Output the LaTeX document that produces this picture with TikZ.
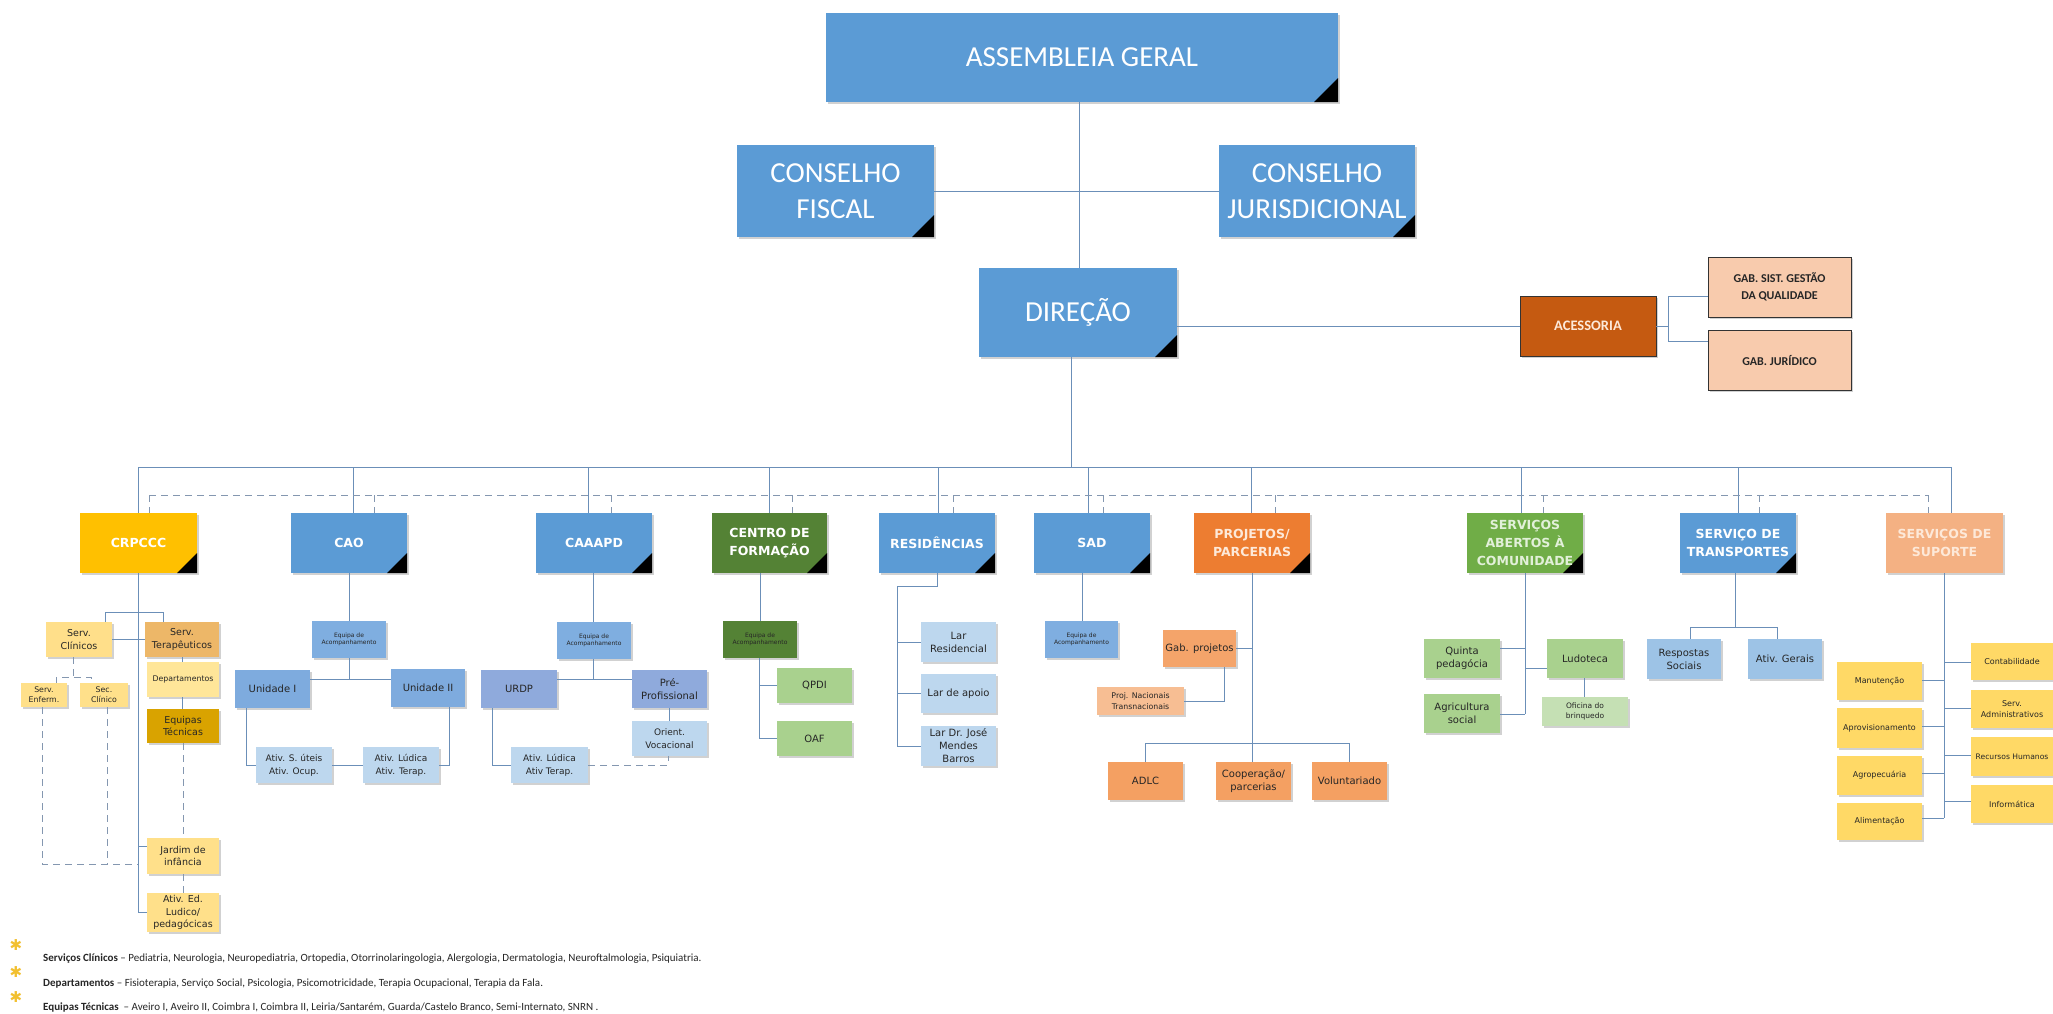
\documentclass[tikz,border=0pt]{standalone}
\usepackage{fontspec}
\newfontfamily\cb{Carlito}
\newfontfamily\dv{DejaVu Sans}
\usetikzlibrary{shadows}
\definecolor{mblue}{HTML}{5B9BD5}
\definecolor{crpc}{HTML}{FFC000}
\definecolor{sclc}{HTML}{FFDF8A}
\definecolor{stpc}{HTML}{EDB768}
\definecolor{depc}{HTML}{FFE699}
\definecolor{eqtc}{HTML}{D9A300}
\definecolor{jarc}{HTML}{FFE08A}
\definecolor{eqab}{HTML}{7FAEE0}
\definecolor{unic}{HTML}{7EABDE}
\definecolor{lbl}{HTML}{BDD7EE}
\definecolor{urdc}{HTML}{8FAADC}
\definecolor{cfg}{HTML}{548235}
\definecolor{qpc}{HTML}{A9D18E}
\definecolor{prjc}{HTML}{ED7D31}
\definecolor{gpc}{HTML}{F4A46A}
\definecolor{pnc}{HTML}{F7BE93}
\definecolor{adc}{HTML}{F4A062}
\definecolor{sacc}{HTML}{70AD47}
\definecolor{ofc}{HTML}{C5E0B4}
\definecolor{rsc}{HTML}{9DC3E6}
\definecolor{supc}{HTML}{F4B183}
\definecolor{yel}{HTML}{FFD966}
\definecolor{accc}{HTML}{C55A11}
\definecolor{gabc}{HTML}{F8CBAD}
\definecolor{lnc}{HTML}{6B8FB8}
\definecolor{dsc}{HTML}{8497B0}
\definecolor{crm}{HTML}{FDE9D9}
\definecolor{crg}{HTML}{E2F0D9}
\definecolor{txt}{HTML}{262626}
\definecolor{ast}{HTML}{F2C030}
\newcommand\BX[7]{%
  \pgfmathsetmacro\BXw{#4-#2}\pgfmathsetmacro\BXh{#5-#3}%
  \pgfmathsetmacro\BXx{(#2+#4)/2}\pgfmathsetmacro\BXy{(#3+#5)/2}%
  \node[#6, minimum width=\BXw pt, minimum height=\BXh pt] (#1) at (\BXx,\BXy) {#7};}
\tikzset{
  box/.style={rectangle, inner sep=1pt, align=center},
  shd/.style={drop shadow={opacity=0.18, shadow xshift=1.5pt, shadow yshift=-1.5pt, fill=black}},
  tri/.style={path picture={\fill[black] (path picture bounding box.south east) -- ++(-#1,0pt) -- ++(#1,#1) -- cycle;}},
  mainbox/.style={box, shd, fill=mblue, text=white, font=\cb\fontsize{29}{36}\selectfont, tri=22pt},
  topbox/.style={box, shd, text=white, font=\dv\bfseries\fontsize{12.5}{18}\selectfont},
  sm/.style={box, shd, text=txt, font=\dv\fontsize{10}{13}\selectfont},
  gab/.style={box, shd, draw=black!80, line width=0.8pt, fill=gabc, text=txt, font=\cb\bfseries\fontsize{12}{17}\selectfont},
  ln/.style={draw=lnc, line width=1pt},
  dsh/.style={draw=dsc, line width=1pt, dash pattern=on 7pt off 5pt},
  foot/.style={anchor=base west, inner sep=0pt, text=txt, font=\cb\fontsize{11}{13}\selectfont},
  astr/.style={inner sep=0pt, text=ast, font=\dv\fontsize{15}{15}\selectfont}
}
\begin{document}
\begin{tikzpicture}[x=1pt,y=-1pt]
\useasboundingbox (0,0) rectangle (2053,1013);
\fill[white] (0,0) rectangle (2053,1013);

% ---------- top level ----------
\BX{ag}{826}{13}{1338}{102}{mainbox, tri=24pt}{ASSEMBLEIA GERAL}
\BX{cf}{737}{145}{934}{237}{mainbox}{CONSELHO\\FISCAL}
\BX{cj}{1219}{145}{1415}{237}{mainbox}{CONSELHO\\JURISDICIONAL}
\BX{dir}{979}{268}{1177}{357}{mainbox}{DIREÇÃO}
\BX{acc}{1520}{296}{1656}{356}{gab, fill=accc, text=crm, font=\cb\bfseries\fontsize{14.5}{17}\selectfont}{ACESSORIA}
\BX{gq}{1708}{257}{1851}{317}{gab}{GAB. SIST. GESTÃO\\DA QUALIDADE}
\BX{gj}{1708}{330}{1851}{390}{gab}{GAB. JURÍDICO}

\draw[ln] (ag.south -| 1079,0) -- (dir.north -| 1079,0);
\draw[ln] (cf.east) -- (cj.west);
\draw[ln] (acc.west) -- (acc.west -| dir.east);
\draw[ln] (acc.east) -- (1668,326);
\draw[ln] (gq.west |- 0,296) -| (1668,341) -- (gj.west |- 0,341);

% ---------- departments ----------
\BX{crp}{80}{513}{197}{573}{topbox, fill=crpc, tri=20pt}{CRPCCC}
\BX{cao}{291}{513}{407}{573}{topbox, fill=mblue, tri=20pt}{CAO}
\BX{caa}{536}{513}{652}{573}{topbox, fill=mblue, tri=20pt}{CAAAPD}
\BX{cfo}{712}{513}{827}{573}{topbox, fill=cfg, tri=20pt}{CENTRO DE\\FORMAÇÃO}
\BX{res}{879}{513}{995}{573}{topbox, fill=mblue, tri=20pt}{RESIDÊNCIAS}
\BX{sad}{1034}{513}{1150}{573}{topbox, fill=mblue, tri=20pt}{SAD}
\BX{prj}{1194}{513}{1310}{573}{topbox, fill=prjc, text=crm, tri=20pt}{PROJETOS/\\PARCERIAS}
\BX{sac}{1467}{513}{1583}{573}{topbox, fill=sacc, text=crg, tri=20pt}{SERVIÇOS\\ABERTOS À\\COMUNIDADE}
\BX{trp}{1680}{513}{1796}{573}{topbox, fill=mblue, tri=20pt}{SERVIÇO DE\\TRANSPORTES}
\BX{sup}{1886}{513}{2003}{573}{topbox, fill=supc, text=crm}{SERVIÇOS DE\\SUPORTE}

\coordinate (busL) at (138,467);
\coordinate (busR) at (1951,467);
\draw[ln] (busL) -- (busR);
\draw[ln] (dir.south -| 1071,0) -- (1071,467);
\foreach \n/\x in {crp/138, cao/353, caa/588, cfo/769, res/938, sad/1088, prj/1251, sac/1521, trp/1738, sup/1951}
  \draw[ln] (\x,467) -- (\n.north -| \x,0);
\coordinate (dL) at (149,495);
\coordinate (dR) at (1928,495);
\draw[dsh] (dL) -- (dR);
\foreach \n/\x in {crp/149, cao/374, caa/611, cfo/792, res/953, sad/1103, prj/1275, sac/1543, trp/1759, sup/1928}
  \draw[dsh] (\x,495) -- (\n.north -| \x,0);

% ---------- CRPCCC ----------
\BX{scl}{46}{622}{112}{657}{sm, fill=sclc, font=\dv\fontsize{9.5}{12.5}\selectfont}{Serv.\\Clínicos}
\BX{stp}{145}{622}{219}{657}{sm, fill=stpc, font=\dv\fontsize{9.5}{12.5}\selectfont}{Serv.\\Terapêuticos}
\BX{dep}{147}{662}{219}{697}{sm, fill=depc, font=\dv\fontsize{7.8}{10}\selectfont}{Departamentos}
\BX{eqt}{147}{709}{219}{743}{sm, fill=eqtc, font=\dv\fontsize{9.5}{12.5}\selectfont}{Equipas\\Técnicas}
\BX{jar}{147}{838}{219}{874}{sm, fill=jarc, font=\dv\fontsize{9.5}{12.5}\selectfont}{Jardim de\\infância}
\BX{ate}{147}{893}{219}{932}{sm, fill=jarc, font=\dv\fontsize{9.5}{12.5}\selectfont}{Ativ. Ed.\\Ludico/\\pedagócicas}
\BX{sen}{21}{683}{67}{707}{sm, fill=jarc, font=\dv\fontsize{7.8}{10}\selectfont}{Serv.\\Enferm.}
\BX{sec}{80}{683}{128}{707}{sm, fill=jarc, font=\dv\fontsize{7.8}{10}\selectfont}{Sec.\\Clínico}

\draw[ln] (crp.south) -- (crp.south |- ate.west) -- (ate.west);
\draw[ln] (scl.north -| 105,0) -- (105,612) -- (163,612) -- (stp.north -| 163,0);
\draw[ln] (scl.east) -- (stp.west);
\draw[ln] (stp.south -| 182,0) -- (dep.north -| 182,0);
\draw[ln] (dep.south -| 182,0) -- (eqt.north -| 182,0);
\draw[dsh] (eqt.south -| 183,0) -- (jar.north -| 183,0);
\draw[dsh] (jar.south -| 183,0) -- (ate.north -| 183,0);
\draw[ln] (138,846) -- (jar.west |- 0,846);
\draw[dsh] (scl.south -| 73,0) -- (73,677);
\draw[dsh] (sen.north -| 56,0) -- (56,677) -- (91,677) -- (sec.north -| 91,0);
\draw[dsh] (sen.south -| 42,0) -- (42,864) -- (138,864);
\draw[dsh] (sec.south -| 107,0) -- (107,864);

% ---------- CAO ----------
\BX{eqa1}{312}{621}{386}{658}{sm, fill=eqab, font=\dv\fontsize{6}{7.5}\selectfont}{Equipa de\\Acompanhamento}
\BX{un1}{235}{670}{310}{708}{sm, fill=unic}{Unidade I}
\BX{un2}{391}{669}{465}{707}{sm, fill=unic}{Unidade II}
\BX{as1}{256}{747}{332}{783}{sm, fill=lbl, font=\dv\fontsize{9}{13}\selectfont}{Ativ. S. úteis\\Ativ. Ocup.}
\BX{al1}{363}{747}{439}{783}{sm, fill=lbl, font=\dv\fontsize{9}{13}\selectfont}{Ativ. Lúdica\\Ativ. Terap.}
\draw[ln] (cao.south) -- (eqa1.north);
\draw[ln] (eqa1.south) -- (eqa1.south |- 0,679);
\draw[ln] (un1.east |- 0,679) -- (un2.west |- 0,679);
\draw[ln] (un1.south -| 246,0) |- (as1.west);
\draw[ln] (as1.east) -- (al1.west);
\draw[ln] (un2.south -| 449,0) |- (al1.east);

% ---------- CAAAPD ----------
\BX{eqa2}{557}{622}{631}{659}{sm, fill=eqab, font=\dv\fontsize{6}{7.5}\selectfont}{Equipa de\\Acompanhamento}
\BX{urdp}{481}{670}{557}{708}{sm, fill=urdc}{URDP}
\BX{pre}{632}{670}{707}{708}{sm, fill=urdc}{Pré-\\Profissional}
\BX{ori}{632}{721}{707}{756}{sm, fill=lbl, font=\dv\fontsize{9}{12.5}\selectfont}{Orient.\\Vocacional}
\BX{al2}{511}{747}{588}{783}{sm, fill=lbl, font=\dv\fontsize{9}{13}\selectfont}{Ativ. Lúdica\\Ativ Terap.}
\draw[ln] (caa.south -| 593,0) -- (eqa2.north -| 593,0);
\draw[ln] (eqa2.south -| 593,0) -- (593,679);
\draw[ln] (urdp.east |- 0,679) -- (pre.west |- 0,679);
\draw[ln] (pre.south -| 669,0) -- (ori.north -| 669,0);
\draw[ln] (urdp.south -| 492,0) |- (al2.west);
\draw[dsh] (al2.east) -| (ori.south -| 668,0);

% ---------- Centro de Formacao ----------
\BX{eqa3}{723}{621}{797}{658}{sm, fill=cfg, font=\dv\fontsize{6}{7.5}\selectfont}{Equipa de\\Acompanhamento}
\BX{qpdi}{777}{668}{852}{703}{sm, fill=qpc}{QPDI}
\BX{oaf}{777}{721}{852}{756}{sm, fill=qpc}{OAF}
\draw[ln] (cfo.south -| 760,0) -- (eqa3.north -| 760,0);
\draw[ln] (eqa3.south -| 759,0) |- (oaf.west);
\draw[ln] (qpdi.west) -- (qpdi.west -| 759,0);

% ---------- Residencias ----------
\BX{lr}{921}{622}{996}{662}{sm, fill=lbl}{Lar\\Residencial}
\BX{la}{921}{674}{996}{713}{sm, fill=lbl}{Lar de apoio}
\BX{ld}{921}{726}{996}{766}{sm, fill=lbl}{Lar Dr. José\\Mendes\\Barros}
\draw[ln] (res.south -| 937,0) -- (937,586) -- (897,586) |- (ld.west);
\draw[ln] (lr.west) -- (lr.west -| 897,0);
\draw[ln] (la.west) -- (la.west -| 897,0);

% ---------- SAD ----------
\BX{eqa4}{1045}{621}{1118}{658}{sm, fill=eqab, font=\dv\fontsize{6}{7.5}\selectfont}{Equipa de\\Acompanhamento}
\draw[ln] (sad.south -| 1082,0) -- (eqa4.north -| 1082,0);

% ---------- Projetos ----------
\BX{gp}{1163}{630}{1236}{667}{sm, fill=gpc}{Gab. projetos}
\BX{pn}{1097}{687}{1184}{715}{sm, fill=pnc, font=\dv\fontsize{7.8}{10.5}\selectfont}{Proj. Nacionais\\Transnacionais}
\BX{adlc}{1108}{762}{1183}{800}{sm, fill=adc}{ADLC}
\BX{coop}{1216}{762}{1291}{800}{sm, fill=adc}{Cooperação/\\parcerias}
\BX{vol}{1312}{762}{1387}{800}{sm, fill=adc}{Voluntariado}
\draw[ln] (prj.south -| 1252,0) -- (1252,743);
\draw[ln] (gp.east) -- (gp.east -| 1252,0);
\draw[ln] (gp.south -| 1224,0) |- (pn.east);
\draw[ln] (adlc.north) |- (vol.north |- 0,743) -- (vol.north);
\draw[ln] (1252,743) -- (coop.north -| 1252,0);

% ---------- Servicos abertos ----------
\BX{qp}{1424}{639}{1500}{678}{sm, fill=qpc}{Quinta\\pedagócia}
\BX{agr2}{1424}{694}{1500}{733}{sm, fill=qpc}{Agricultura\\social}
\BX{lud}{1547}{639}{1623}{678}{sm, fill=qpc}{Ludoteca}
\BX{of}{1542}{697}{1628}{726}{sm, fill=ofc, font=\dv\fontsize{7.5}{10}\selectfont}{Oficina do\\brinquedo}
\draw[ln] (sac.south -| 1525,0) -- (1525,714);
\draw[ln] (qp.east |- 0,648) -- (1525,648);
\draw[ln] (agr2.east |- 0,714) -- (1525,714);
\draw[ln] (1525,668) -- (lud.west |- 0,668);
\draw[ln] (lud.south -| 1584,0) -- (of.north -| 1584,0);

% ---------- Transportes ----------
\BX{rs}{1647}{639}{1721}{679}{sm, fill=rsc}{Respostas\\Sociais}
\BX{agg}{1748}{639}{1822}{679}{sm, fill=rsc}{Ativ. Gerais}
\draw[ln] (trp.south -| 1735,0) -- (1735,627);
\draw[ln] (rs.north -| 1690,0) |- (1777,627) -- (agg.north -| 1777,0);

% ---------- Suporte ----------
\tikzset{sup8/.style={sm, fill=yel, font=\dv\fontsize{8}{11}\selectfont}}
\BX{man}{1837}{662}{1922}{700}{sup8}{Manutenção}
\BX{apr}{1837}{708}{1922}{748}{sup8}{Aprovisionamento}
\BX{agp}{1837}{756}{1922}{795}{sup8}{Agropecuária}
\BX{ali}{1837}{803}{1922}{840}{sup8}{Alimentação}
\BX{con}{1971}{643}{2053}{680}{sup8}{Contabilidade}
\BX{sadm}{1971}{690}{2053}{728}{sup8}{Serv.\\Administrativos}
\BX{rh}{1971}{737}{2053}{776}{sup8, font=\dv\fontsize{7.6}{11}\selectfont}{Recursos Humanos}
\BX{inf}{1971}{785}{2053}{823}{sup8}{Informática}
\draw[ln] (sup.south -| 1944,0) -- (1944,818);
\foreach \n/\y in {man/680, apr/726, agp/773, ali/818}
  \draw[ln] (\n.east |- 0,\y) -- (1944,\y);
\foreach \n/\y in {con/662, sadm/708, rh/755, inf/801}
  \draw[ln] (1944,\y) -- (\n.west |- 0,\y);

% ---------- footnotes ----------
\node[astr] (a1) at (16,945) {✱};
\node[astr] (a2) at (16,972) {✱};
\node[astr] (a3) at (16,997) {✱};
\node[foot] (f1) at (43,961) {\textbf{Serviços Clínicos} – Pediatria, Neurologia, Neuropediatria, Ortopedia, Otorrinolaringologia, Alergologia, Dermatologia, Neuroftalmologia, Psiquiatria.};
\node[foot] (f2) at (43,986) {\textbf{Departamentos} – Fisioterapia, Serviço Social, Psicologia, Psicomotricidade, Terapia Ocupacional, Terapia da Fala.};
\node[foot] (f3) at (43,1010) {\textbf{Equipas Técnicas} \ – Aveiro I, Aveiro II, Coimbra I, Coimbra II, Leiria/Santarém, Guarda/Castelo Branco, Semi-Internato, SNRN .};
\end{tikzpicture}
\end{document}
